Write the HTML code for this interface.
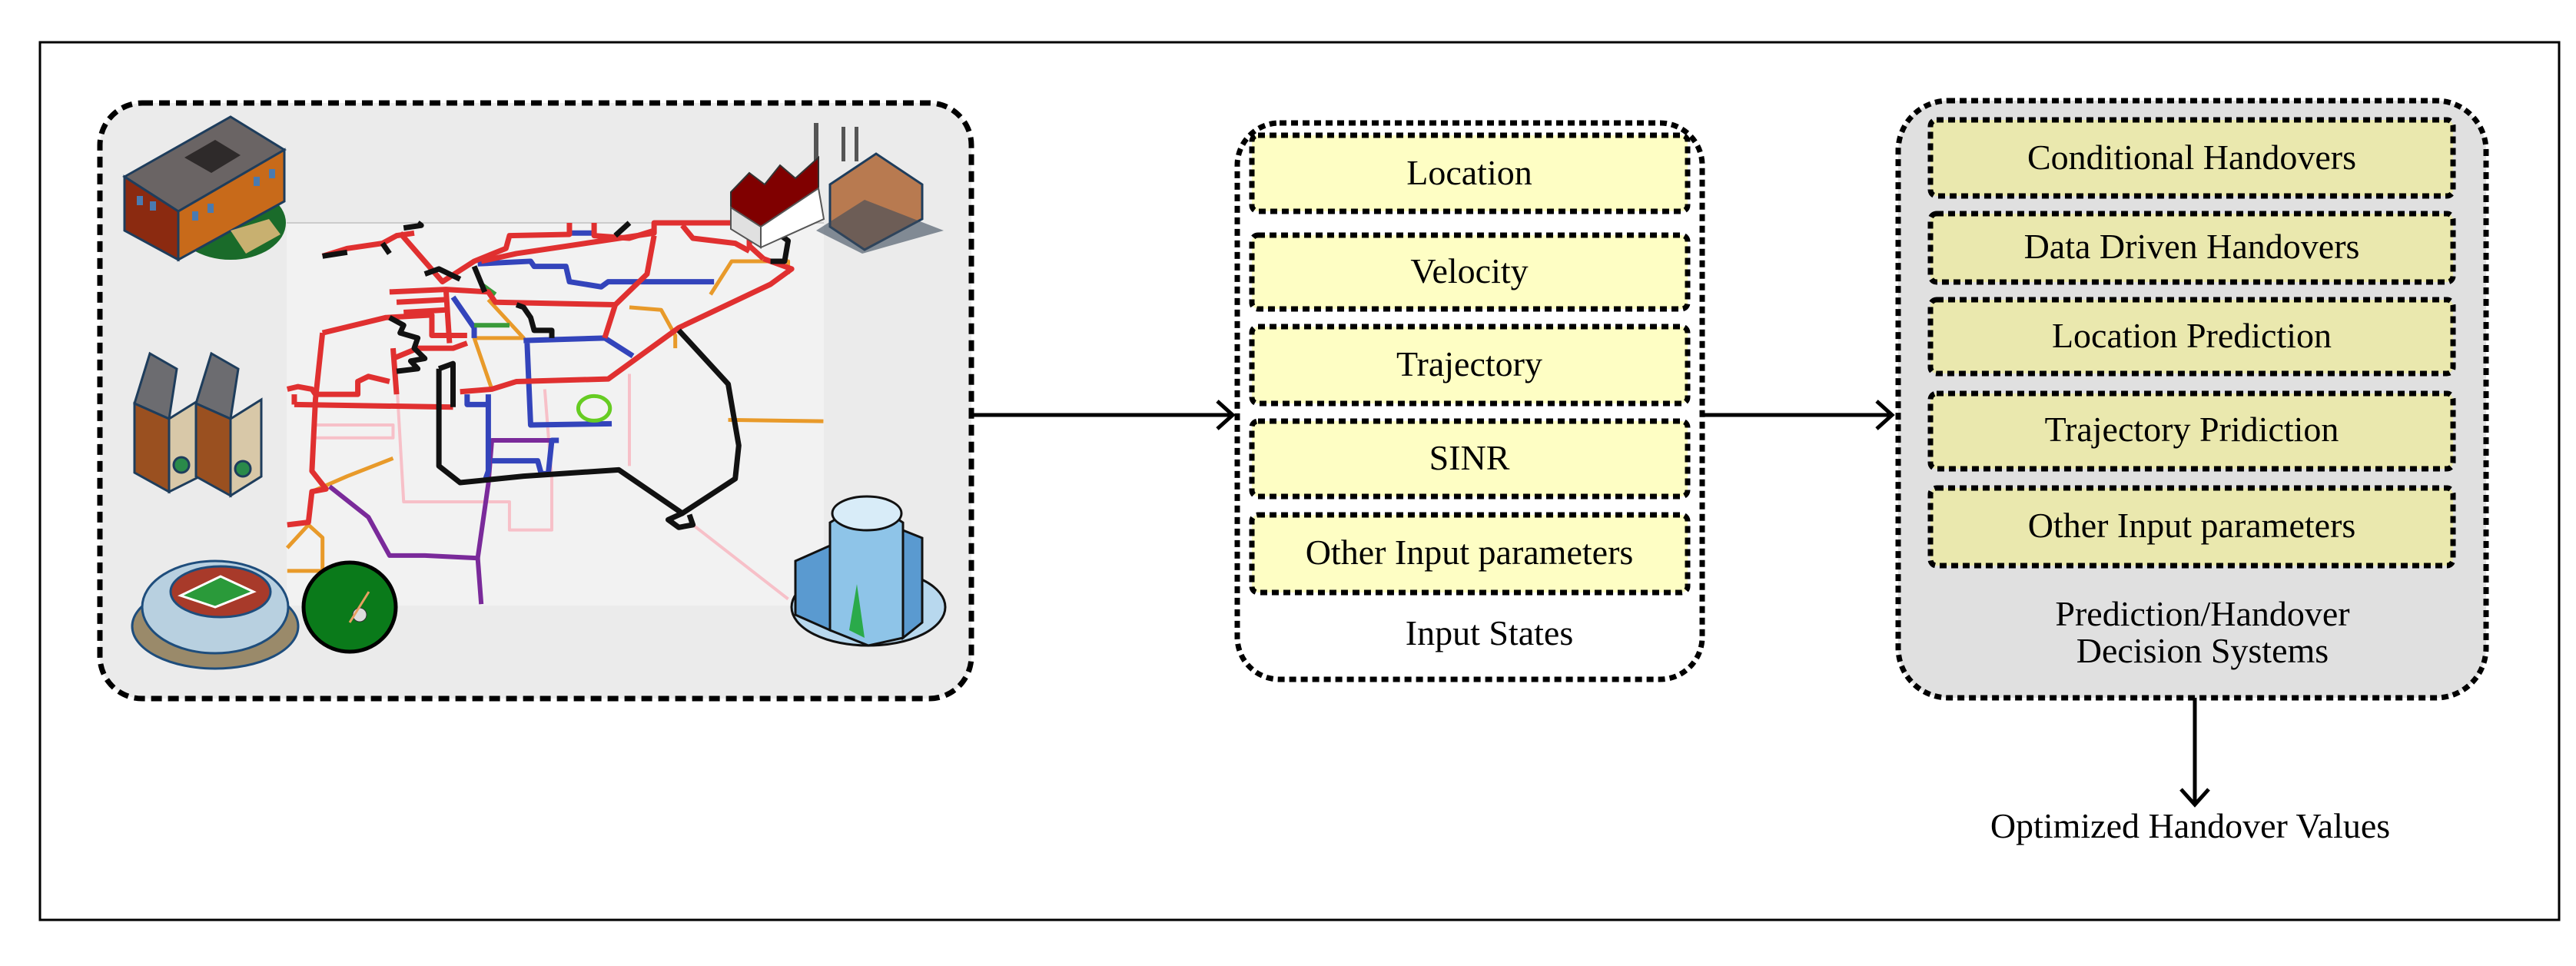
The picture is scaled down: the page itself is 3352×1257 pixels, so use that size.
<!DOCTYPE html>
<html><head><meta charset="utf-8"><style>
html,body{margin:0;padding:0;background:#fff}
svg{display:block}
text{font-family:"Liberation Serif",serif;fill:#000}
</style></head><body>
<svg width="3352" height="1257" viewBox="0 0 3352 1257" xmlns="http://www.w3.org/2000/svg">
<rect x="0" y="0" width="3352" height="1257" fill="#fff"/>
<rect x="52" y="55" width="3278" height="1142" fill="none" stroke="#000" stroke-width="3"/>

<!-- left box -->
<rect x="130" y="134" width="1134" height="775" rx="55" fill="#ebebeb" stroke="#000" stroke-width="7" stroke-dasharray="14,8"/>
<rect x="373" y="289" width="699" height="499" fill="#f2f2f2"/>
<line x1="373" y1="290" x2="1072" y2="290" stroke="#ccc" stroke-width="2"/>
<g transform="translate(360,280) scale(0.459,0.333)" fill="none" stroke-linejoin="round">
 <g stroke="#f7c0c8" stroke-width="4">
  <polyline vector-effect="non-scaling-stroke" points="340,640 360,1120 660,1120 660,1230 780,1230 780,1030 760,680"/>
  <polyline vector-effect="non-scaling-stroke" points="1000,620 1000,980"/>
  <polyline vector-effect="non-scaling-stroke" points="1180,1210 1450,1500"/>
  <polyline vector-effect="non-scaling-stroke" points="110,820 330,820 330,870 110,870"/>
 </g>
 <g stroke="#e89a2a" stroke-width="5">
  <polyline vector-effect="non-scaling-stroke" points="30,1300 90,1210 130,1260 130,1390 30,1390"/>
  <polyline vector-effect="non-scaling-stroke" points="100,1080 200,1020 330,950"/>
  <polyline vector-effect="non-scaling-stroke" points="1280,800 1550,805"/>
  <polyline vector-effect="non-scaling-stroke" points="1000,360 1090,370 1130,470 1130,520"/>
  <polyline vector-effect="non-scaling-stroke" points="1230,310 1290,180 1450,180 1450,230"/>
  <polyline vector-effect="non-scaling-stroke" points="600,330 700,480 560,480 610,680"/>
 </g>
 <g stroke="#7a2a9a" stroke-width="6">
  <polyline vector-effect="non-scaling-stroke" points="150,1060 260,1180 320,1330 420,1330 570,1340 580,1520"/>
  <polyline vector-effect="non-scaling-stroke" points="570,1340 600,1050 610,880 780,880"/>
 </g>
 <g stroke="#3344bb" stroke-width="7">
  <polyline vector-effect="non-scaling-stroke" points="570,190 720,180 730,200 820,200 830,260 920,280 940,260 1240,260"/>
  <polyline vector-effect="non-scaling-stroke" points="830,70 900,70"/>
  <polyline vector-effect="non-scaling-stroke" points="700,490 930,480 1010,550"/>
  <polyline vector-effect="non-scaling-stroke" points="710,500 720,820 950,815"/>
  <polyline vector-effect="non-scaling-stroke" points="600,700 600,1000 590,1040"/>
  <polyline vector-effect="non-scaling-stroke" points="610,960 740,960 750,1010 770,1010 780,880 800,880"/>
  <polyline vector-effect="non-scaling-stroke" points="540,700 540,740 600,740"/>
  <polyline vector-effect="non-scaling-stroke" points="500,320 560,440 560,480"/>
 </g>
 <g stroke="#3a9a3a" stroke-width="6">
  <polyline vector-effect="non-scaling-stroke" points="560,430 660,430"/>
  <polyline vector-effect="non-scaling-stroke" points="580,270 620,310"/>
 </g>
 <ellipse cx="900" cy="755" rx="45" ry="48" stroke="#66cc22" stroke-width="5" vector-effect="non-scaling-stroke"/>
 <g stroke="#e03030" stroke-width="7">
  <polyline vector-effect="non-scaling-stroke" points="130,160 200,130 300,110 340,80 390,70"/>
  <polyline vector-effect="non-scaling-stroke" points="350,70 470,260 560,180 650,130 660,80 830,75 830,30"/>
  <polyline vector-effect="non-scaling-stroke" points="580,180 680,150 1070,70 1070,30 1340,30 1340,120 1380,170"/>
  <polyline vector-effect="non-scaling-stroke" points="900,30 900,80 1000,90 1070,60"/>
  <polyline vector-effect="non-scaling-stroke" points="1150,40 1180,90 1300,110 1340,140"/>
  <polyline vector-effect="non-scaling-stroke" points="320,300 480,290 600,300 620,340 960,350 930,480"/>
  <polyline vector-effect="non-scaling-stroke" points="960,350 1050,230 1070,80"/>
  <polyline vector-effect="non-scaling-stroke" points="340,340 480,330"/>
  <polyline vector-effect="non-scaling-stroke" points="360,380 480,370"/>
  <polyline vector-effect="non-scaling-stroke" points="130,460 310,400 440,390 440,470 540,470"/>
  <polyline vector-effect="non-scaling-stroke" points="130,460 110,720 100,1000 140,1070 100,1080 90,1200 30,1210"/>
  <polyline vector-effect="non-scaling-stroke" points="330,520 340,700"/>
  <polyline vector-effect="non-scaling-stroke" points="330,560 400,520 500,520 540,500"/>
  <polyline vector-effect="non-scaling-stroke" points="30,680 60,670 100,680 110,700 230,700 230,650 260,630 320,650"/>
  <polyline vector-effect="non-scaling-stroke" points="50,740 500,750"/>
  <polyline vector-effect="non-scaling-stroke" points="50,700 50,740"/>
  <polyline vector-effect="non-scaling-stroke" points="520,690 610,680 680,650 940,640 1140,440 1400,270 1460,210 1380,170"/>
  <polyline vector-effect="non-scaling-stroke" points="480,290 490,500"/>
 </g>
 <g stroke="#111" stroke-width="7">
  <polyline vector-effect="non-scaling-stroke" points="130,160 200,145"/>
  <polyline vector-effect="non-scaling-stroke" points="300,110 320,150"/>
  <polyline vector-effect="non-scaling-stroke" points="360,50 410,40 400,30"/>
  <polyline vector-effect="non-scaling-stroke" points="420,230 460,210 520,250"/>
  <polyline vector-effect="non-scaling-stroke" points="560,200 590,300"/>
  <polyline vector-effect="non-scaling-stroke" points="680,350 700,360 720,400 730,450 780,450 780,480"/>
  <polyline vector-effect="non-scaling-stroke" points="320,400 360,430 350,460 400,480 390,520 420,560 380,570 400,600 340,610"/>
  <polyline vector-effect="non-scaling-stroke" points="460,600 460,980 520,1045 700,1020 970,995 1150,1165 1300,1030 1310,900 1280,660 1140,450"/>
  <polyline vector-effect="non-scaling-stroke" points="1150,1165 1110,1190 1140,1220 1180,1210 1170,1170"/>
  <polyline vector-effect="non-scaling-stroke" points="460,600 500,580 500,750"/>
  <polyline vector-effect="non-scaling-stroke" points="1420,30 1440,50 1430,80 1450,100 1440,180 1400,180"/>
  <polyline vector-effect="non-scaling-stroke" points="960,80 1000,30"/>
 </g>
</g>

<!-- school -->
<g>
 <ellipse cx="300" cy="290" rx="72" ry="48" fill="#1a6b2a"/>
 <polygon points="162,230 300,152 370,195 232,275" fill="#6a6464" stroke="#1e3d5c" stroke-width="3"/>
 <polygon points="162,230 232,275 232,338 162,300" fill="#8b2a10" stroke="#1e3d5c" stroke-width="3"/>
 <polygon points="232,275 370,195 370,262 232,338" fill="#c86a1a" stroke="#1e3d5c" stroke-width="3"/>
 <polygon points="240,205 280,182 313,202 275,225" fill="#2e2a2a"/>
 <polygon points="300,300 350,285 365,305 320,330" fill="#c8b070"/>
 <g fill="#4a7ab0"><rect x="178" y="255" width="8" height="12"/><rect x="195" y="262" width="8" height="12"/><rect x="250" y="275" width="8" height="12"/><rect x="270" y="265" width="8" height="12"/><rect x="330" y="230" width="8" height="12"/><rect x="350" y="220" width="8" height="12"/></g>
</g>
<!-- houses -->
<g stroke="#1e3d5c" stroke-width="3">
 <polygon points="175,525 195,460 230,480 220,545" fill="#6c6c70"/>
 <polygon points="175,525 220,545 220,640 175,615" fill="#9a5020"/>
 <polygon points="220,545 260,520 260,620 220,640" fill="#d8c8a8"/>
 <polygon points="255,525 275,460 310,480 300,545" fill="#6c6c70"/>
 <polygon points="255,525 300,545 300,645 255,620" fill="#9a5020"/>
 <polygon points="300,545 340,520 340,620 300,645" fill="#d8c8a8"/>
 <circle cx="236" cy="605" r="10" fill="#2a8a4a"/><circle cx="316" cy="610" r="10" fill="#2a8a4a"/>
</g>
<!-- stadium -->
<g stroke="#1e4d7c" stroke-width="3">
 <ellipse cx="280" cy="815" rx="108" ry="55" fill="#9a8a6a"/>
 <ellipse cx="280" cy="790" rx="95" ry="60" fill="#b8d0e0"/>
 <ellipse cx="287" cy="770" rx="65" ry="33" fill="#a83a2a"/>
 <polygon points="235,775 287,750 330,770 280,790" fill="#2a9a3a" stroke="#fff"/>
</g>
<ellipse cx="455" cy="790" rx="60" ry="58" fill="#0a7a1a" stroke="#000" stroke-width="5"/>
<circle cx="468" cy="800" r="9" fill="#ddd" stroke="#333" stroke-width="1"/>
<line x1="455" y1="810" x2="480" y2="770" stroke="#e8a060" stroke-width="3"/>
<!-- factory -->
<g>
 <rect x="1059" y="160" width="6" height="55" fill="#555"/>
 <polygon points="951,250 975,225 995,240 1015,215 1035,232 1065,205 1065,245 990,295 951,270" fill="#800000" stroke="#333" stroke-width="2"/>
 <polygon points="951,270 990,295 990,322 951,298" fill="#e0e0e0" stroke="#555" stroke-width="2"/>
 <polygon points="990,295 1065,245 1072,285 990,322" fill="#fff" stroke="#555" stroke-width="2"/>
 <rect x="1095" y="165" width="5" height="45" fill="#555"/><rect x="1112" y="165" width="5" height="45" fill="#555"/>
 <polygon points="1080,240 1140,200 1200,240 1200,285 1125,325 1080,295" fill="#b87a50" stroke="#1e3d5c" stroke-width="3"/>
 <polygon points="1062,300 1125,260 1228,300 1122,330" fill="#3a4a5a" opacity="0.6"/>
</g>
<!-- office -->
<g stroke="#111" stroke-width="3">
 <ellipse cx="1130" cy="790" rx="100" ry="50" fill="#b8d8ee"/>
 <polygon points="1035,730 1080,710 1080,820 1035,800" fill="#5a9ad0"/>
 <polygon points="1080,680 1130,650 1175,680 1175,830 1130,840 1080,820" fill="#8ec4e8"/>
 <ellipse cx="1128" cy="668" rx="45" ry="22" fill="#d8ecf8"/>
 <polygon points="1175,690 1200,700 1200,810 1175,830" fill="#5a9ad0"/>
 <polygon points="1105,820 1115,760 1125,830" fill="#2aaa4a" stroke="none"/>
</g>

<!-- arrows -->
<g stroke="#000" stroke-width="5" fill="none">
 <line x1="1266" y1="540" x2="1600" y2="540"/>
 <polyline points="1584,522 1604,540 1584,558"/>
 <line x1="2215" y1="540" x2="2458" y2="540"/>
 <polyline points="2442,522 2462,540 2442,558"/>
 <line x1="2856" y1="908" x2="2856" y2="1044"/>
 <polyline points="2838,1027 2856,1047 2874,1027"/>
</g>

<!-- input states -->
<rect x="1610" y="160" width="605" height="724" rx="55" fill="#fff" stroke="#000" stroke-width="7" stroke-dasharray="9,6"/>
<g fill="#fefec4" stroke="#000" stroke-width="7" stroke-dasharray="9,6">
 <rect x="1629" y="176" width="567" height="99" rx="8"/>
 <rect x="1629" y="306" width="567" height="96" rx="8"/>
 <rect x="1629" y="425" width="567" height="100" rx="8"/>
 <rect x="1629" y="548" width="567" height="98" rx="8"/>
 <rect x="1629" y="670" width="567" height="101" rx="8"/>
</g>
<g font-size="46" text-anchor="middle">
 <text x="1912" y="240">Location</text>
 <text x="1912" y="368">Velocity</text>
 <text x="1912" y="489">Trajectory</text>
 <text x="1912" y="611">SINR</text>
 <text x="1912" y="734">Other Input parameters</text>
 <text x="1938" y="839">Input States</text>
</g>

<!-- decision systems -->
<rect x="2470" y="131" width="765" height="777" rx="65" fill="#e0e0e0" stroke="#000" stroke-width="7" stroke-dasharray="9,6"/>
<g fill="#eae8ae" stroke="#000" stroke-width="7" stroke-dasharray="9,6">
 <rect x="2512" y="156" width="680" height="99" rx="8"/>
 <rect x="2512" y="278" width="680" height="89" rx="8"/>
 <rect x="2512" y="390" width="680" height="96" rx="8"/>
 <rect x="2512" y="512" width="680" height="98" rx="8"/>
 <rect x="2512" y="635" width="680" height="101" rx="8"/>
</g>
<g font-size="46" text-anchor="middle">
 <text x="2852" y="220">Conditional Handovers</text>
 <text x="2852" y="336">Data Driven Handovers</text>
 <text x="2852" y="452">Location Prediction</text>
 <text x="2852" y="574">Trajectory Pridiction</text>
 <text x="2852" y="699">Other Input parameters</text>
 <text x="2866" y="814">Prediction/Handover</text>
 <text x="2866" y="862">Decision Systems</text>
 <text x="2850" y="1090">Optimized Handover Values</text>
</g>
</svg>
</body></html>
